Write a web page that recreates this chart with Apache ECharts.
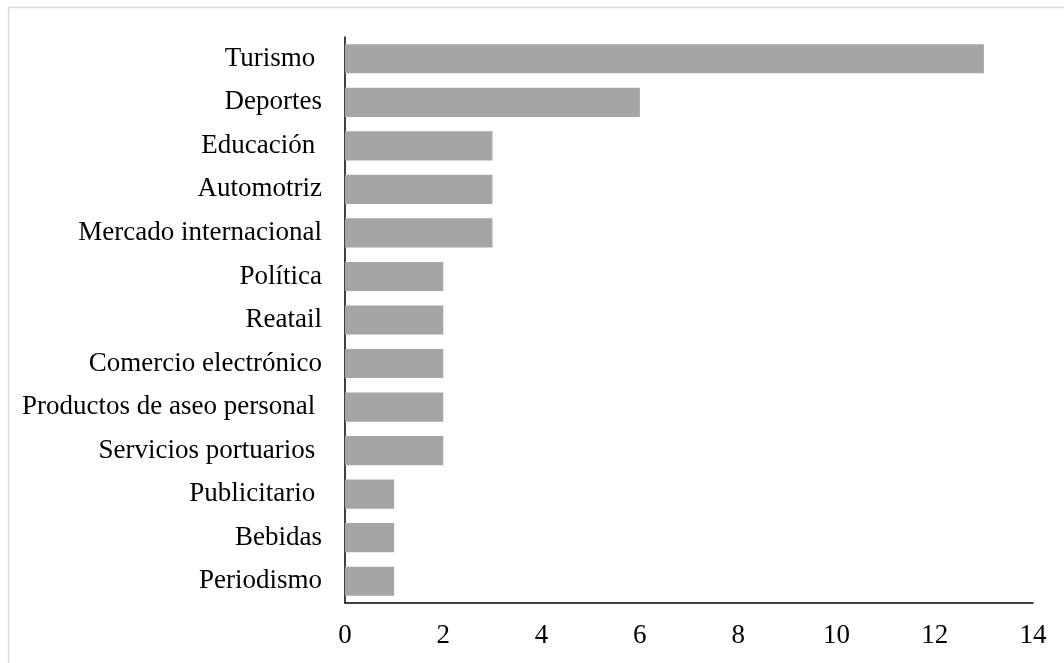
<!DOCTYPE html>
<html>
<head>
<meta charset="utf-8">
<script src="https://cdn.jsdelivr.net/npm/echarts@6/dist/echarts.min.js"></script>
<style>html,body{margin:0;padding:0;background:#fff}#c{width:1064px;height:663px}</style>
</head>
<body>
<div id="c"></div>
<script>
const categories = ["Turismo ", "Deportes", "Educación ", "Automotriz", "Mercado internacional", "Política", "Reatail", "Comercio electrónico", "Productos de aseo personal ", "Servicios portuarios ", "Publicitario ", "Bebidas", "Periodismo"];
const values = [13, 6, 3, 3, 3, 2, 2, 2, 2, 2, 1, 1, 1];
const xTicks = [0, 2, 4, 6, 8, 10, 12, 14];

const chart = echarts.init(document.getElementById('c'), null, {renderer: 'canvas'});
const font = '"Liberation Serif", "Times New Roman", serif';
chart.setOption({
  animation: false,
  textStyle: {fontFamily: font},
  graphic: [{
    type: 'rect', silent: true,
    shape: {x: 8.5, y: 7.5, width: 1100, height: 720},
    style: {fill: 'none', stroke: '#d9d9d9', lineWidth: 1.5}
  }],
  grid: {left: 345, right: 31, top: 37, bottom: 60, containLabel: false},
  xAxis: {
    type: 'value', min: xTicks[0], max: xTicks[xTicks.length - 1], interval: 2,
    axisLine: {show: true, lineStyle: {color: '#000', width: 1.5}},
    axisTick: {show: false},
    splitLine: {show: false},
    axisLabel: {color: '#000', fontSize: 27, fontFamily: font, margin: 19}
  },
  yAxis: {
    type: 'category', data: categories, inverse: true,
    axisLine: {show: true, lineStyle: {color: '#000', width: 1.5}},
    axisTick: {show: false},
    axisLabel: {color: '#000', fontSize: 27, fontFamily: font, margin: 23}
  },
  series: [{
    type: 'bar', data: values, barCategoryGap: '33%',
    itemStyle: {color: '#a5a5a5'}
  }]
});
</script>
</body>
</html>
